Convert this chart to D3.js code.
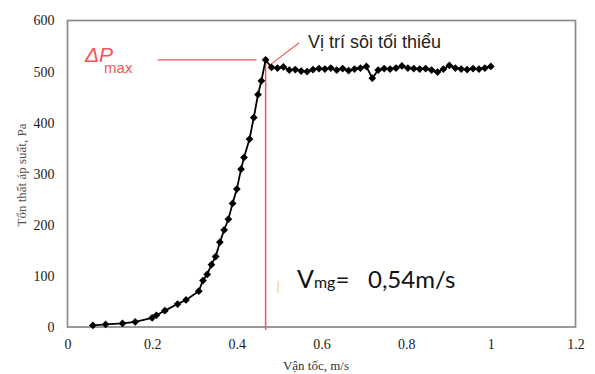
<!DOCTYPE html>
<html><head><meta charset="utf-8">
<script src="https://cdn.jsdelivr.net/npm/d3@7"></script>
<style>body{margin:0;background:#fff}svg{display:block}</style>
</head><body>
<svg id="c" width="595" height="374"></svg>
<script>
// Rising branch (velocity m/s, pressure drop Pa)
const riseX = [0.06,0.09,0.13,0.16,0.20,0.21,0.23,0.26,0.28,0.31,0.32,0.33,0.34,0.35,0.36,0.37,0.38,0.39,0.40,0.41,0.417,0.43,0.44,0.45,0.458,0.468];
const riseY = [3,5,7,10,18,23,32,45,53,70,91,103,122,138,166,190,211,242,270,309,332,368,410,455,482,523];
// Plateau branch
const flatX = [0.482,0.496,0.510,0.524,0.538,0.552,0.566,0.580,0.594,0.608,0.622,0.636,0.650,0.664,0.678,0.692,0.706,0.720,0.734,0.748,0.762,0.776,0.790,0.804,0.818,0.832,0.846,0.860,0.874,0.888,0.902,0.916,0.930,0.944,0.958,0.972,0.986,1.000];
const flatY = [508,507,509,503,504,501,500,504,506,505,507,503,506,502,505,507,510,487,503,506,505,507,511,507,506,505,506,503,499,505,512,507,505,504,506,505,507,510];
const xTicks = [0,0.2,0.4,0.6,0.8,1,1.2];
const yTicks = [0,100,200,300,400,500,600];
const peakX = 0.468, peakY = 523;

const svg = d3.select("#c");
const x = d3.scaleLinear().domain([0,1.2]).range([67.5,575.5]);
const y = d3.scaleLinear().domain([0,600]).range([327,20.5]);
const data = riseX.map((v,i)=>({x:v,y:riseY[i]})).concat(flatX.map((v,i)=>({x:v,y:flatY[i]})));

// frame
svg.append("rect").attr("x",x(0)).attr("y",y(600)).attr("width",x(1.2)-x(0)).attr("height",y(0)-y(600))
  .attr("fill","none").attr("stroke","#8a8a8a").attr("stroke-width",1.7);

// axes
const ax = svg.append("g").attr("transform",`translate(0,${y(0)})`)
  .call(d3.axisBottom(x).tickValues(xTicks).tickSize(0).tickPadding(12).tickFormat(d3.format("~g")));
const ay = svg.append("g").attr("transform",`translate(${x(0)},0)`)
  .call(d3.axisLeft(y).tickValues(yTicks).tickSize(0).tickPadding(13));
[ax,ay].forEach(g=>{g.select(".domain").remove();
  g.selectAll("text").attr("font-family","Liberation Serif").attr("font-size",14).attr("fill","#1a1a1a");});

// red reference lines
const red = "#f2545a";
svg.append("line").attr("x1",157.7).attr("x2",x(peakX)-9).attr("y1",y(peakY)).attr("y2",y(peakY))
  .attr("stroke",red).attr("stroke-width",1.4);
svg.append("line").attr("x1",x(peakX)).attr("x2",x(peakX)).attr("y1",y(peakY)+2).attr("y2",y(0)+3)
  .attr("stroke",red).attr("stroke-width",1.5);
svg.append("line").attr("x1",x(peakX)+3).attr("y1",y(peakY)+6).attr("x2",299).attr("y2",43)
  .attr("stroke",red).attr("stroke-width",1.1);
// faint orange mark
svg.append("line").attr("x1",278).attr("x2",278).attr("y1",281).attr("y2",293)
  .attr("stroke","#f6d9a8").attr("stroke-width",1.5);

// series
svg.append("path").datum(data).attr("fill","none").attr("stroke","#000").attr("stroke-width",1.8)
  .attr("d",d3.line().x(d=>x(d.x)).y(d=>y(d.y)));
svg.append("g").selectAll("path").data(data).join("path")
  .attr("transform",d=>`translate(${x(d.x)},${y(d.y)}) rotate(45)`)
  .attr("d",d3.symbol().type(d3.symbolSquare).size(30)).attr("fill","#000");

// texts
const dp = svg.append("text").attr("x",85).attr("y",62).attr("fill",red).attr("font-family","Liberation Sans");
dp.append("tspan").attr("font-style","italic").attr("font-size",21).text("ΔP");
dp.append("tspan").attr("font-size",15).attr("dx",-9).attr("dy",11).text("max");
svg.append("text").attr("x",308).attr("y",48).attr("fill","#222")
  .attr("font-family","Liberation Sans").attr("font-size",18).text("Vị trí sôi tối thiểu");
const vt = svg.append("text").attr("x",297).attr("y",288).attr("fill","#111").attr("font-family","Lato");
vt.append("tspan").attr("font-size",25).text("V");
vt.append("tspan").attr("font-size",16).text("mg");
vt.append("tspan").attr("font-size",24).text("=");
svg.append("text").attr("x",368).attr("y",288).attr("fill","#111").attr("font-family","Lato").attr("font-size",24).text("0,54m/s");

svg.append("text").attr("x",316).attr("y",370).attr("text-anchor","middle").attr("fill","#333")
  .attr("font-family","Liberation Serif").attr("font-size",13).text("Vận tốc, m/s");
svg.append("text").attr("transform","translate(26,175) rotate(-90)").attr("text-anchor","middle")
  .attr("fill","#5a4a42").attr("font-family","Liberation Serif").attr("font-size",13).text("Tổn thất áp suất, Pa");
</script>
</body></html>
